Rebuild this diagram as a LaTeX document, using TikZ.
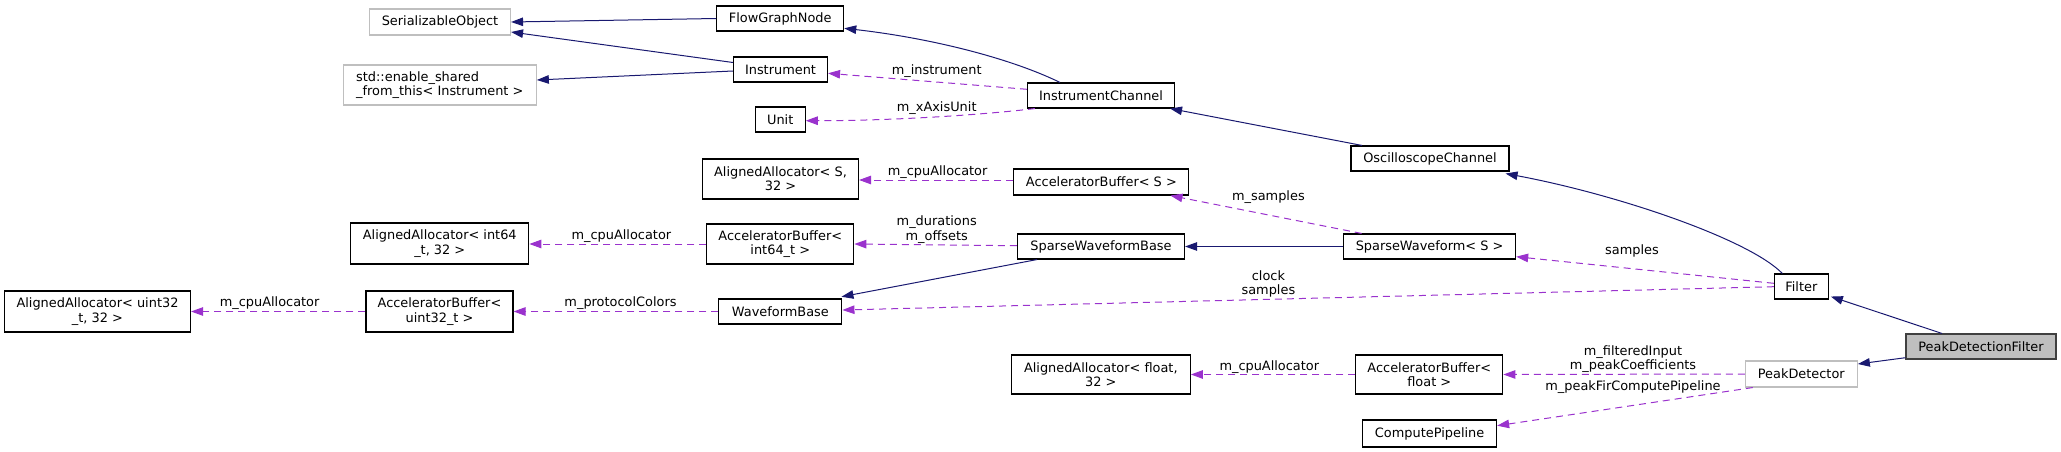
\documentclass[tikz,border=0pt]{standalone}
\usepackage{fontspec}
\setmainfont{DejaVu Sans}
\usetikzlibrary{arrows.meta}
\definecolor{inhblue}{HTML}{191970}
\definecolor{usepurple}{HTML}{9A32CD}
\definecolor{lightborder}{HTML}{BFBFBF}
\definecolor{curfill}{HTML}{BFBFBF}
\definecolor{curborder}{HTML}{404040}
\tikzset{
  box/.style={draw=black, line width=1.1pt, fill=white, inner sep=0pt, align=center,
    font=\fontsize{12.9}{14.3}\selectfont},
  graybox/.style={box, draw=lightborder},
  curbox/.style={box, draw=curborder, fill=curfill},
  inh/.style={draw=inhblue, line width=1pt, -{Triangle[length=12pt,width=8.5pt]}},
  usage/.style={draw=usepurple, line width=1pt, dash pattern=on 7pt off 5pt,
    -{Triangle[length=12pt,width=8.5pt]}},
  lbl/.style={inner sep=0pt, align=center, font=\fontsize{12.9}{14.3}\selectfont}
}
\begin{document}
\begin{tikzpicture}[x=1pt,y=-1pt]
\useasboundingbox (0,0) rectangle (2061,452);
% nodes
\node[graybox, minimum width=141pt, minimum height=26pt] (ser) at (440,22) {SerializableObject};
\node[graybox, minimum width=193pt, minimum height=40pt, align=left] (esft) at (439.8,85) {std::enable\_shared\\\_from\_this< Instrument >};
\node[box, minimum width=127pt, minimum height=25pt] (fgn) at (780.2,18.5) {FlowGraphNode};
\node[box, minimum width=94pt, minimum height=25pt] (instr) at (780.5,69.5) {Instrument};
\node[box, minimum width=147pt, minimum height=25pt] (ich) at (1101,95.5) {InstrumentChannel};
\node[box, minimum width=50pt, minimum height=25pt] (unit) at (780.2,119.5) {Unit};
\node[box, minimum width=156pt, minimum height=40pt] (aaS) at (780.5,179) {AlignedAllocator< S,\\32 >};
\node[box, minimum width=175pt, minimum height=26pt] (abS) at (1101.4,182) {AcceleratorBuffer< S >};
\node[box, minimum width=158pt, minimum height=25pt] (osc) at (1430,158.5) {OscilloscopeChannel};
\node[box, minimum width=178pt, minimum height=41pt] (aai64) at (439.8,243.5) {AlignedAllocator< int64\\\_t, 32 >};
\node[box, minimum width=147pt, minimum height=40pt] (abi64) at (780.3,244) {AcceleratorBuffer<\\int64\_t >};
\node[box, minimum width=167pt, minimum height=25pt] (swb) at (1101,246.5) {SparseWaveformBase};
\node[box, minimum width=172pt, minimum height=25pt] (sw) at (1429.6,246.5) {SparseWaveform< S >};
\node[box, minimum width=186pt, minimum height=41pt] (aau32) at (97.5,311.5) {AlignedAllocator< uint32\\\_t, 32 >};
\node[box, minimum width=147pt, minimum height=41pt] (abu32) at (439.5,311.5) {AcceleratorBuffer<\\uint32\_t >};
\node[box, minimum width=123pt, minimum height=25pt] (wb) at (780.4,311.5) {WaveformBase};
\node[box, minimum width=54pt, minimum height=25pt] (filter) at (1801.3,286.5) {Filter};
\node[curbox, minimum width=150pt, minimum height=25pt] (pdf) at (1981,346.5) {PeakDetectionFilter};
\node[graybox, minimum width=112pt, minimum height=26pt] (pd) at (1801.3,374) {PeakDetector};
\node[box, minimum width=179pt, minimum height=39pt] (aaf) at (1100.8,374.5) {AlignedAllocator< float,\\32 >};
\node[box, minimum width=147pt, minimum height=39pt] (abf) at (1429.3,374.5) {AcceleratorBuffer<\\float >};
\node[box, minimum width=134pt, minimum height=27pt] (cp) at (1429.6,433.5) {ComputePipeline};
% inheritance edges
\draw[inh] (fgn.west) -- (ser.east);
\draw[inh] ([yshift=7pt]instr.west) -- ([yshift=-10pt]ser.east);
\draw[inh] ([yshift=-1.5pt]instr.west) -- ([yshift=5pt]esft.east);
\draw[inh] ([xshift=-41pt]ich.north) .. controls (1010,58) and (930,38) .. ([yshift=-9.8pt]fgn.east);
\draw[inh] ([xshift=-68pt]osc.north) -- ([xshift=-5pt]ich.south east);
\draw[inh] ([xshift=-19pt]filter.north) .. controls (1750,240) and (1620,195) .. ([xshift=-4pt,yshift=-2pt]osc.south east);
\draw[inh] (sw.west) -- (swb.east);
\draw[inh] ([xshift=-64pt]swb.south) -- ([xshift=-1pt,yshift=1.7pt]wb.north east);
\draw[inh] ([xshift=-39pt]pdf.north) -- ([xshift=2pt,yshift=3pt]filter.south east);
\draw[inh] ([yshift=-11.2pt]pdf.west) -- ([yshift=10pt]pd.east);
% usage edges
\draw[usage] ([yshift=6.2pt]ich.west) -- ([yshift=-3.8pt]instr.east);
\draw[usage] ([xshift=8pt]ich.south west) .. controls (990,114) and (900,120.7) .. ([yshift=-1.2pt]unit.east);
\draw[usage] ([yshift=2pt]abS.west) -- ([yshift=-1pt]aaS.east);
\draw[usage] ([xshift=-68pt]sw.north) -- ([xshift=-19pt]abS.south east);
\draw[usage] (abi64.west) -- ([yshift=-0.5pt]aai64.east);
\draw[usage] ([yshift=0.8pt]swb.west) -- (abi64.east);
\draw[usage] (wb.west) -- (abu32.east);
\draw[usage] (abu32.west) -- (aau32.east);
\draw[usage] ([yshift=3.2pt]filter.west) -- ([yshift=-10.2pt]sw.east);
\draw[usage] ([yshift=-0.2pt]filter.west) -- ([yshift=1.5pt]wb.east);
\draw[usage] (abf.west) -- (aaf.east);
\draw[usage] (pd.west) -- (abf.east);
\draw[usage] ([xshift=8pt]pd.south west) -- ([yshift=7.8pt]cp.east);
% labels
\node[lbl] (linstr) at (936.7,71) {m\_instrument};
\node[lbl] (lxaxis) at (936.7,108) {m\_xAxisUnit};
\node[lbl] (lcpuS) at (937.6,172) {m\_cpuAllocator};
\node[lbl] (lsamp) at (1268.4,197) {m\_samples};
\node[lbl] (lcpui) at (621.4,236) {m\_cpuAllocator};
\node[lbl] (ldur) at (936.7,229.5) {m\_durations\\m\_offsets};
\node[lbl] (lproto) at (620.5,303) {m\_protocolColors};
\node[lbl] (lcpuu) at (269.6,303) {m\_cpuAllocator};
\node[lbl] (lsamples) at (1632,251) {samples};
\node[lbl] (lclock) at (1268.4,284) {clock\\samples};
\node[lbl] (lcpuf) at (1269.3,367) {m\_cpuAllocator};
\node[lbl] (lpeak) at (1633,359) {m\_filteredInput\\m\_peakCoefficients};
\node[lbl] (lfir) at (1633,387) {m\_peakFirComputePipeline};
\end{tikzpicture}
\end{document}
